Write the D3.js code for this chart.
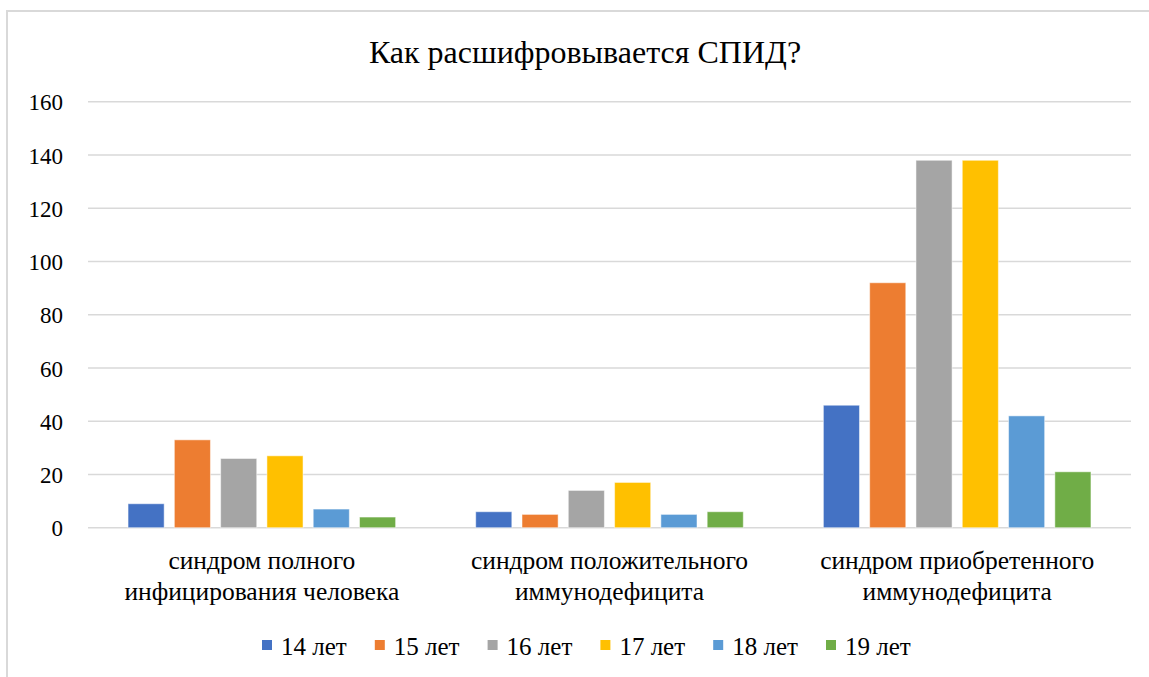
<!DOCTYPE html>
<html><head><meta charset="utf-8">
<script src="https://cdn.jsdelivr.net/npm/d3@7"></script>
<style>body{margin:0;background:#fff}svg{display:block}svg text{font-family:"Liberation Serif","Times New Roman","DejaVu Serif",serif;fill:#000}</style>
</head><body>
<svg id="c" width="1149" height="677"></svg>
<script>
const title = "Как расшифровывается СПИД?";
const categories = [["синдром полного","инфицирования человека"],["синдром положительного","иммунодефицита"],["синдром приобретенного","иммунодефицита"]];
const seriesNames = ["14 лет","15 лет","16 лет","17 лет","18 лет","19 лет"];
const colors = ["#4472C4","#ED7D31","#A5A5A5","#FFC000","#5B9BD5","#70AD47"];
const s14 = [9, 6, 46];
const s15 = [33, 5, 92];
const s16 = [26, 14, 138];
const s17 = [27, 17, 138];
const s18 = [7, 5, 42];
const s19 = [4, 6, 21];
const series = [s14, s15, s16, s17, s18, s19];
const yTicks = [0,20,40,60,80,100,120,140,160];
const FONT = "'Liberation Serif', 'Times New Roman', serif";

const svg = d3.select("#c");
svg.append("rect").attr("x",7).attr("y",11).attr("width",1200).attr("height",800)
  .attr("fill","#fff").attr("stroke","#d9d9d9").attr("stroke-width",2);

const pLeft = 88, pRight = 1131, pTop = 101.7, pBottom = 527.7;
const y = d3.scaleLinear().domain([0,160]).range([pBottom, pTop]);
const x0 = d3.scaleBand().domain(d3.range(categories.length)).range([pLeft, pRight]).paddingInner(0).paddingOuter(0);
const x1 = d3.scaleBand().domain(d3.range(seriesNames.length)).range([0, x0.bandwidth()]).paddingInner(0.22).paddingOuter(0.865);

// gridlines
svg.append("g").selectAll("line").data(yTicks).join("line")
  .attr("x1",pLeft).attr("x2",pRight).attr("y1",d=>y(d)).attr("y2",d=>y(d))
  .attr("stroke","#d9d9d9").attr("stroke-width",1.5);

// y axis labels
const yAxis = d3.axisLeft(y).tickValues(yTicks).tickSize(0).tickPadding(0);
const ya = svg.append("g").attr("transform",`translate(63,0)`).call(yAxis);
ya.attr("font-family", FONT).attr("font-size", 23);
ya.select(".domain").remove();
ya.selectAll("text").attr("fill","#000").attr("dy","0.36em");

// bars
const g = svg.append("g");
categories.forEach((c,ci)=>{
  series.forEach((s,si)=>{
    g.append("rect")
      .attr("x", x0(ci)+x1(si)).attr("width", x1.bandwidth())
      .attr("y", y(s[ci])).attr("height", y(0)-y(s[ci]))
      .attr("fill", colors[si]).attr("stroke","#fff").attr("stroke-opacity",0.5).attr("stroke-width",1);
  });
});

// category labels
categories.forEach((c,ci)=>{
  const cx = x0(ci)+x0.bandwidth()/2;
  c.forEach((line,li)=>{
    svg.append("text").attr("x",cx).attr("y",569+li*31).attr("text-anchor","middle")
      .attr("font-family",FONT).attr("font-size",25.5).text(line);
  });
});

// title
svg.append("text").attr("x",585).attr("y",63).attr("text-anchor","middle")
  .attr("font-family",FONT).attr("font-size",32).text(title);

// legend
const lg = svg.append("g");
seriesNames.forEach((n,i)=>{
  const lx = 262 + i*112.8;
  lg.append("rect").attr("x",lx).attr("y",640).attr("width",10).attr("height",10).attr("fill",colors[i]);
  lg.append("text").attr("x",lx+19).attr("y",655).attr("font-family",FONT).attr("font-size",25).text(n);
});
</script>
</body></html>
